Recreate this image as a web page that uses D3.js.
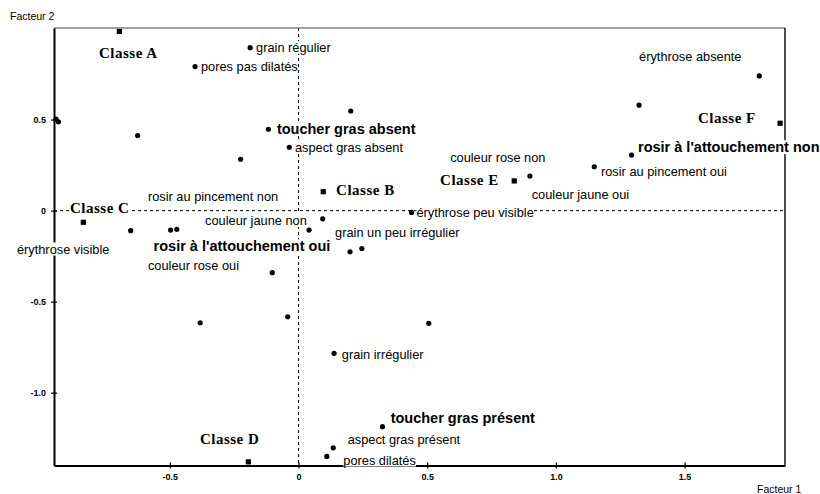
<!DOCTYPE html>
<html><head><meta charset="utf-8">
<script src="https://cdn.jsdelivr.net/npm/d3@7"></script>
<style>body{margin:0;background:#fff}svg{display:block}</style>
</head><body><svg id="c" width="820" height="494"></svg>
<script>
// ---- data (factor coordinates) ----
const xDomain = [-0.95, 1.89];
const yDomain = [-1.40, 1.003];
const xTicks = [-0.5, 0, 0.5, 1.0, 1.5];
const xTickLabels = ["-0.5", "0", "0.5", "1.0", "1.5"];
const yTicks = [0.5, 0, -0.5, -1.0];
const yTickLabels = ["0.5", "0", "-0.5", "-1.0"];
const xTitle = "Facteur 1";
const yTitle = "Facteur 2";

// modalities (dots)
const modalities = [
  [-0.188, 0.895], [-0.402, 0.791], [-0.942, 0.502], [-0.933, 0.488],
  [-0.625, 0.412], [-0.225, 0.282], [-0.117, 0.447], [-0.036, 0.348],
  [0.203, 0.547], [0.094, -0.045], [-0.652, -0.110], [-0.497, -0.107],
  [-0.473, -0.103], [0.041, -0.107], [0.200, -0.226], [0.246, -0.208],
  [0.439, -0.010], [-0.102, -0.341], [-0.382, -0.616], [-0.042, -0.583],
  [0.506, -0.619], [0.138, -0.784], [0.326, -1.187], [0.135, -1.303],
  [0.110, -1.350], [0.899, 0.190], [1.149, 0.241], [1.294, 0.305],
  [1.323, 0.579], [1.790, 0.740]
];
// classes (squares)
const classes = [
  ["Classe A", -0.696, 0.984], ["Classe B", 0.096, 0.104],
  ["Classe C", -0.836, -0.064], ["Classe D", -0.195, -1.380],
  ["Classe E", 0.838, 0.163], ["Classe F", 1.871, 0.480]
];
// label anchors (text, x, y in factor units)
const classLabels = [
  ["Classe A", -0.775, 0.866], ["Classe B", 0.146, 0.113],
  ["Classe C", -0.888, 0.018], ["Classe D", -0.383, -1.255],
  ["Classe E", 0.550, 0.168], ["Classe F", 1.552, 0.509]
];
const boldLabels = [
  ["toucher gras absent", -0.084, 0.448],
  ["rosir à l'attouchement oui", -0.563, -0.196],
  ["toucher gras présent", 0.358, -1.141],
  ["rosir à l'attouchement non", 1.319, 0.349]
];
const plainLabels = [
  ["grain régulier", -0.165, 0.896],
  ["pores pas dilatés", -0.379, 0.792],
  ["aspect gras absent", -0.014, 0.348],
  ["rosir au pincement non", -0.585, 0.080],
  ["couleur jaune non", -0.363, -0.054],
  ["grain un peu irrégulier", 0.142, -0.118],
  ["érythrose visible", -1.094, -0.211],
  ["couleur rose oui", -0.585, -0.303],
  ["grain irrégulier", 0.168, -0.790],
  ["aspect gras présent", 0.191, -1.260],
  ["pores dilatés", 0.174, -1.370],
  ["couleur rose non", 0.589, 0.289],
  ["couleur jaune oui", 0.906, 0.091],
  ["érythrose peu visible", 0.458, -0.008],
  ["rosir au pincement oui", 1.175, 0.212],
  ["érythrose absente", 1.323, 0.844]
];

// ---- drawing ----
const svg = d3.select("#c");
const L = 54, R = 785, T = 28, B = 465.5;
const x = d3.scaleLinear().domain(xDomain).range([L, R]);
const y = d3.scaleLinear().domain(yDomain).range([B, T]);
const sans = "'Liberation Sans', Arial, sans-serif";
const serif = "'Liberation Serif', 'Times New Roman', serif";

// frame top/right
svg.append("line").attr("x1", L).attr("x2", R).attr("y1", T).attr("y2", T)
  .attr("stroke", "#444").attr("stroke-width", 1);
svg.append("line").attr("x1", R).attr("x2", R).attr("y1", T).attr("y2", B)
  .attr("stroke", "#000").attr("stroke-width", 1.4);

// dashed zero lines
svg.append("line").attr("x1", L).attr("x2", R).attr("y1", y(0)).attr("y2", y(0))
  .attr("stroke", "#000").attr("stroke-width", 1).attr("stroke-dasharray", "3,3");
svg.append("line").attr("x1", x(0)).attr("x2", x(0)).attr("y1", T).attr("y2", B)
  .attr("stroke", "#000").attr("stroke-width", 1).attr("stroke-dasharray", "3,3");

// axes
const gx = svg.append("g").attr("transform", `translate(0,${B})`)
  .call(d3.axisBottom(x).tickValues(xTicks).tickFormat((d, i) => xTickLabels[i]).tickSizeOuter(0));
gx.select(".domain").attr("stroke-width", 2);
gx.selectAll(".tick line").attr("y1", -3).attr("y2", 3).attr("stroke-width", 1.2);
gx.selectAll(".tick text").attr("y", 8).attr("font-family", sans).attr("font-size", 9)
  .attr("font-weight", "bold").attr("fill", "#000");

const gy = svg.append("g").attr("transform", `translate(${L},0)`)
  .call(d3.axisLeft(y).tickValues(yTicks).tickFormat((d, i) => yTickLabels[i]).tickSizeOuter(0));
gy.select(".domain").attr("stroke-width", 2);
gy.selectAll(".tick line").attr("x1", -3).attr("x2", 3).attr("stroke-width", 1.2);
gy.selectAll(".tick text").attr("x", -8).attr("font-family", sans).attr("font-size", 9)
  .attr("font-weight", "bold").attr("fill", "#000");

// axis titles
svg.append("text").attr("x", 10).attr("y", 16).attr("dy", "0.35em").text(yTitle)
  .attr("font-family", sans).attr("font-size", 10.5);
svg.append("text").attr("x", 757).attr("y", 489).attr("dy", "0.35em").text(xTitle)
  .attr("font-family", sans).attr("font-size", 10.5);

// labels with white background
const gl = svg.append("g");
function addLabels(arr, family, size, weight, spacing) {
  arr.forEach(([t, lx, ly]) => {
    const g = gl.append("g");
    const tx = g.append("text").attr("x", x(lx)).attr("y", y(ly)).attr("dy", "0.35em")
      .text(t).attr("font-family", family).attr("font-size", size)
      .attr("font-weight", weight).attr("letter-spacing", spacing).attr("fill", "#000");
    const bb = tx.node().getBBox();
    g.insert("rect", "text").attr("x", bb.x).attr("y", bb.y + 1)
      .attr("width", bb.width).attr("height", bb.height - 2).attr("fill", "#fff");
  });
}
addLabels(plainLabels, sans, 12.8, "normal", 0);
addLabels(boldLabels, sans, 14.5, "bold", 0);
addLabels(classLabels, serif, 15, "bold", 0.5);

// points
svg.append("g").selectAll("circle").data(modalities).join("circle")
  .attr("cx", d => x(d[0])).attr("cy", d => y(d[1])).attr("r", 2.6).attr("fill", "#000");
svg.append("g").selectAll("rect").data(classes).join("rect")
  .attr("x", d => x(d[1]) - 2.6).attr("y", d => y(d[2]) - 2.6)
  .attr("width", 5.2).attr("height", 5.2).attr("fill", "#000");
</script></body></html>
